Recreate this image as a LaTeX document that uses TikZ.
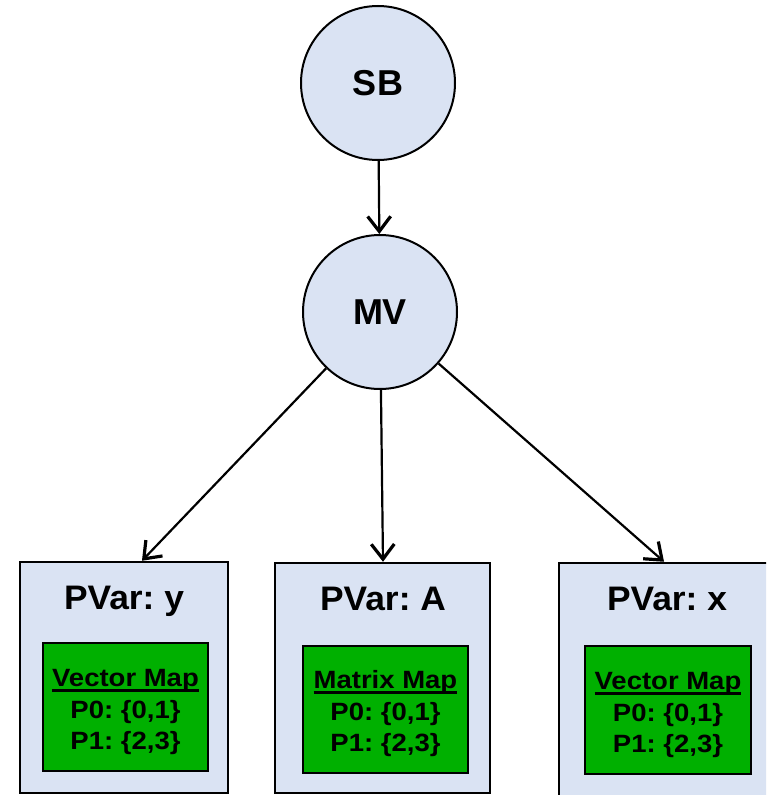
\documentclass[tikz,border=0pt]{standalone}
\usepackage{fontspec}
\setmainfont{Liberation Sans}
\newfontfamily\titlefont[FakeStretch=1.04]{Liberation Sans}
\newfontfamily\mapfont[FakeStretch=1.1]{Liberation Sans}
\usetikzlibrary{arrows.meta}
\definecolor{nodefill}{RGB}{218,227,243}
\definecolor{mapgreen}{RGB}{0,176,0}
\frenchspacing
% bold underline drawn as a rule below the baseline
\newcommand\ulhead[1]{\leavevmode\setbox0\hbox{#1}\rlap{\vrule width\wd0 height -2.5pt depth 5pt}\box0}
\begin{document}
\begin{tikzpicture}[x=1pt,y=-1pt,
  bubble/.style={circle,draw,line width=2pt,fill=nodefill,minimum size=154pt,inner sep=0pt,
    font=\fontsize{36}{40}\selectfont\bfseries},
  pvar/.style={rectangle,draw,line width=2.5pt,fill=nodefill,inner sep=0pt},
  title/.style={font=\titlefont\fontsize{34}{40}\selectfont\bfseries,inner sep=0pt,anchor=base},
  map/.style={rectangle,draw,line width=2.5pt,fill=mapgreen,inner sep=0pt},
  maptext/.style={align=center,font=\mapfont\fontsize{25}{31.5}\selectfont\bfseries,inner sep=0pt},
  link/.style={line width=2.2pt,-{Straight Barb[length=15pt,width=23pt,line width=3.2pt]}}
]
\clip (0,0) rectangle (766,795);

% top-level nodes
\node[bubble] (sb) at (378,83) {SB};
\node[bubble] (mv) at (380,312) {MV};

% partitioned variables
\node[pvar,minimum width=208pt,minimum height=231pt] (py) at (124,677.5) {};
\node[pvar,minimum width=215pt,minimum height=230pt] (pa) at (382.5,678) {};
\node[pvar,minimum width=218pt,minimum height=234pt] (px) at (668,680) {};

\node[title] (ty) at (124,609) {PVar: y};
\node[title] (ta) at (383,610) {PVar: A};
\node[title] (tx) at (667,610) {PVar: x};

% maps
\node[map,minimum width=165pt,minimum height=128pt] (my) at (125.5,707) {};
\node[map,minimum width=165pt,minimum height=127pt] (ma) at (385.5,709.5) {};
\node[map,minimum width=166pt,minimum height=128pt] (mx) at (668,710) {};

\node[maptext] (my text) at (125.5,712) {\ulhead{Vector Map}\\P0: \{0,1\}\\P1: \{2,3\}};
\node[maptext] (ma text) at (385.5,714) {\ulhead{Matrix Map}\\P0: \{0,1\}\\P1: \{2,3\}};
\node[maptext] (mx text) at (668,715) {\ulhead{Vector Map}\\P0: \{0,1\}\\P1: \{2,3\}};

% connectors
\draw[link] (sb) -- (mv);
\draw[link] (mv) -- ([xshift=18pt]py.north);
\draw[link] (mv) -- ([xshift=0.5pt]pa.north);
\draw[link] (mv) -- ([xshift=-4pt]px.north);
\end{tikzpicture}
\end{document}
